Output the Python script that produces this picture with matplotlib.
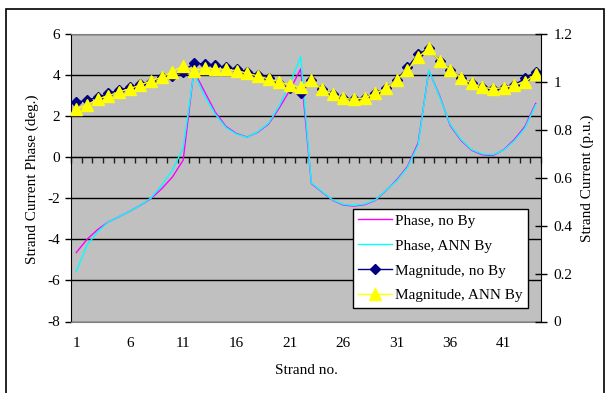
import matplotlib
matplotlib.use("Agg")
import matplotlib.pyplot as plt
from matplotlib.patches import Rectangle

plt.rcParams['font.family'] = ['Liberation Serif', 'DejaVu Serif']
plt.rcParams['font.size'] = 11
plt.rcParams['axes.unicode_minus'] = False

strands = list(range(1, 45))
xtick_labels = [1, 6, 11, 16, 21, 26, 31, 36, 41]

phase_no_by = [-4.64, -4.0, -3.52, -3.15, -2.9, -2.63, -2.34, -2.01, -1.53, -0.96,
               -0.14, 4.2, 3.2, 2.2, 1.5, 1.15, 0.98, 1.22, 1.62, 2.4,
               3.27, 4.3, -1.28, -1.7, -2.1, -2.33, -2.38, -2.31, -2.1, -1.62,
               -1.1, -0.45, 0.7, 4.22, 3.0, 1.55, 0.82, 0.34, 0.12, 0.08,
               0.36, 0.86, 1.5, 2.62]
phase_ann_by = [-5.55, -4.28, -3.63, -3.15, -2.9, -2.63, -2.34, -1.98, -1.36, -0.63,
                0.45, 4.1, 3.0, 2.1, 1.45, 1.12, 0.97, 1.24, 1.66, 2.5,
                3.6, 4.9, -1.25, -1.68, -2.08, -2.3, -2.35, -2.28, -2.08, -1.6,
                -1.15, -0.5, 0.6, 4.24, 2.95, 1.6, 0.86, 0.37, 0.16, 0.12,
                0.34, 0.8, 1.42, 2.55]
mag_no_by = [0.915, 0.924, 0.936, 0.952, 0.966, 0.977, 0.99, 1.001, 1.019, 1.025,
             1.043, 1.078, 1.075, 1.07, 1.061, 1.054, 1.043, 1.029, 1.015, 0.994,
             0.973, 0.952, 1.008, 0.969, 0.948, 0.931, 0.927, 0.934, 0.952, 0.973,
             1.008, 1.061, 1.116, 1.14, 1.088, 1.05, 1.018, 0.994, 0.977, 0.972,
             0.976, 0.987, 1.015, 1.043]
mag_ann_by = [0.886, 0.904, 0.929, 0.942, 0.958, 0.972, 0.987, 1.004, 1.02, 1.043,
              1.068, 1.047, 1.057, 1.054, 1.052, 1.047, 1.036, 1.025, 1.012, 1.0,
              0.987, 0.977, 1.008, 0.969, 0.948, 0.931, 0.927, 0.934, 0.952, 0.973,
              1.008, 1.05, 1.103, 1.14, 1.088, 1.05, 1.018, 0.994, 0.977, 0.972,
              0.976, 0.987, 1.001, 1.032]

W, H = 605, 393
fig = plt.figure(figsize=(W / 100, H / 100), dpi=100)

# outer frame
fig.patches.append(Rectangle((6 / W, -0.01), 598 / W, 1 - 9 / H + 0.01,
                             transform=fig.transFigure, fill=False,
                             edgecolor='black', linewidth=1.2, zorder=0))

x0, x1, ytop, ybot = 71, 541, 34, 321.5
ax = fig.add_axes([x0 / W, (H - ybot) / H, (x1 - x0) / W, (ybot - ytop) / H])
ax.set_facecolor('#C0C0C0')
ax.set_xlim(0.5, 44.5)
ax.set_ylim(-8, 6)
ax.set_yticks(range(-8, 7, 2))
ax.grid(axis='y', color='black', linewidth=1.0)
ax.set_axisbelow(True)
ax.set_xticks(xtick_labels)
ax.tick_params(axis='x', length=0, pad=11.5, labelsize=11)
ax.tick_params(axis='y', direction='out', length=4, width=1, pad=4, labelsize=11)
for s in ['top', 'bottom']:
    ax.spines[s].set_color('#808080')
ax.spines['left'].set_color('black')
ax.spines['right'].set_visible(False)

# category axis crossing at zero, tick marks pointing down
sec = ax.secondary_xaxis(8 / 14)
sec.set_alignment('bottom')
boundaries = [i + 0.5 for i in range(0, 45)]
sec.set_xticks(boundaries, labels=[''] * len(boundaries))
sec.tick_params(axis='x', direction='out', length=4, width=1,
                color='#202020')
sec.spines['bottom'].set_color('black')

l1, = ax.plot(strands, phase_no_by, color='#FF00FF', lw=1.0, label='Phase, no By')
l2, = ax.plot(strands, phase_ann_by, color='#00FFFF', lw=1.0, label='Phase, ANN By')

ax2 = ax.twinx()
ax2.set_ylim(0, 1.2)
ax2.set_yticks([0, 0.2, 0.4, 0.6, 0.8, 1.0, 1.2])
ax2.set_yticklabels(['0', '0.2', '0.4', '0.6', '0.8', '1', '1.2'])
ax2.tick_params(axis='y', direction='inout', length=8, width=1, pad=5, labelsize=11)
ax2.spines['right'].set_color('black')
for s in ['top', 'bottom', 'left']:
    ax2.spines[s].set_visible(False)

l3, = ax2.plot(strands, mag_no_by, color='#000080', lw=1.0, marker='D', ms=5,
               mec='#000080', mfc='#000080', label='Magnitude, no By')
l4, = ax2.plot(strands, mag_ann_by, color='#FFFF00', lw=1.0, marker='^', ms=8,
               mec='#FFFF00', mfc='#FFFF00', label='Magnitude, ANN By')

leg = ax2.legend(handles=[l1, l2, l3, l4], loc='lower right',
                 bbox_to_anchor=(0.9717, 0.048), fancybox=False, framealpha=1,
                 edgecolor='black', handlelength=2.2, labelspacing=0.73,
                 borderpad=0.35, handletextpad=0.2, borderaxespad=0, fontsize=11)
leg.get_frame().set_linewidth(1.0)

fig.text(32 / W, 1 - 179 / H, 'Strand Current Phase (deg.)', rotation=90,
         ha='center', va='center', fontsize=11)
fig.text(587 / W, 1 - 178 / H, 'Strand Current (p.u.)', rotation=90,
         ha='center', va='center', fontsize=11)
fig.text(306 / W, 1 - 371 / H, 'Strand no.', ha='center', va='center', fontsize=11)

fig.savefig('out.png', dpi=100)
